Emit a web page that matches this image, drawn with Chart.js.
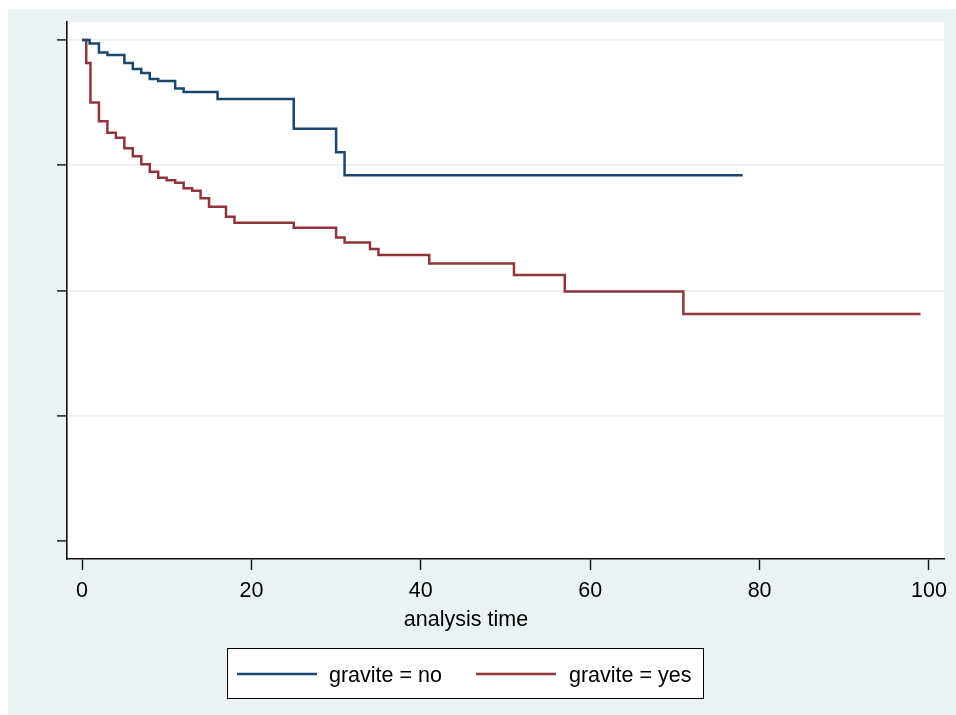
<!DOCTYPE html>
<html>
<head>
<meta charset="utf-8">
<script src="https://cdn.jsdelivr.net/npm/chart.js@4/dist/chart.umd.min.js"></script>
<style>
  html, body { margin: 0; padding: 0; background: #ffffff; }
  #wrap { width: 956px; height: 715px; position: relative; }
</style>
</head>
<body>
<div id="wrap"><canvas id="c" width="956" height="715"></canvas></div>
<script>
// ---- Data (Kaplan-Meier estimates) ----
const seriesLabels = ["gravite = no", "gravite = yes"];
const noTimes = [0, 0.9, 2, 3, 5, 6, 7, 8, 9, 11, 12, 16, 25, 30, 31, 78];
const noSurv  = [1.000, 0.993, 0.975, 0.970, 0.954, 0.942, 0.934, 0.922, 0.918, 0.903, 0.896, 0.882, 0.823, 0.776, 0.730, 0.730];
const yesTimes = [0, 0.5, 1, 2, 3, 4, 5, 6, 7, 8, 9, 10, 11, 12, 13, 14, 15, 17, 18, 25, 30, 31, 34, 35, 41, 51, 57, 71, 99];
const yesSurv  = [1.000, 0.954, 0.875, 0.838, 0.815, 0.805, 0.784, 0.768, 0.752, 0.737, 0.725, 0.720, 0.715, 0.704, 0.699, 0.684, 0.667, 0.647, 0.635, 0.625, 0.606, 0.596, 0.583, 0.571, 0.554, 0.531, 0.498, 0.453, 0.453];
const xTickValues = [0, 20, 40, 60, 80, 100];
const yTickValues = [0, 0.25, 0.5, 0.75, 1];
const xAxisTitle = "analysis time";

const toPoints = (ts, ss) => ts.map((t, i) => ({ x: t, y: ss[i] }));

const FONT = "'Liberation Sans', Arial, sans-serif";
const BG = "#EAF2F3";
const BLUE = "#1A476F";
const RED = "#90353B";

const backgroundPlugin = {
  id: 'stataBackground',
  beforeDraw(chart) {
    const { ctx, chartArea } = chart;
    ctx.save();
    ctx.fillStyle = '#ffffff';
    ctx.fillRect(0, 0, chart.width, chart.height);
    ctx.fillStyle = BG;
    ctx.fillRect(8, 9, chart.width - 8, chart.height - 9);
    ctx.fillStyle = '#ffffff';
    ctx.fillRect(chartArea.left, chartArea.top, chartArea.right - chartArea.left, chartArea.bottom - chartArea.top);
    ctx.restore();
  }
};

const titleLegendPlugin = {
  id: 'titleLegend',
  afterDraw(chart) {
    const { ctx } = chart;
    ctx.save();
    // x-axis title
    ctx.fillStyle = '#000000';
    ctx.font = "21.5px " + FONT;
    ctx.textAlign = 'center';
    ctx.textBaseline = 'alphabetic';
    ctx.fillText(xAxisTitle, 466, 626);
    // legend box
    const bx = 227.5, by = 648.5, bw = 476, bh = 50;
    ctx.fillStyle = '#ffffff';
    ctx.fillRect(bx, by, bw, bh);
    ctx.strokeStyle = '#000000';
    ctx.lineWidth = 1;
    ctx.strokeRect(bx, by, bw, bh);
    const items = [
      { lx: 237, tx: 329 },
      { lx: 476, tx: 569 }
    ];
    chart.data.datasets.forEach((ds, i) => {
      const it = items[i];
      ctx.strokeStyle = ds.borderColor;
      ctx.lineWidth = 2.5;
      ctx.beginPath();
      ctx.moveTo(it.lx, 674);
      ctx.lineTo(it.lx + 80, 674);
      ctx.stroke();
      ctx.fillStyle = '#000000';
      ctx.font = "21.5px " + FONT;
      ctx.textAlign = 'left';
      ctx.textBaseline = 'alphabetic';
      ctx.fillText(ds.label, it.tx, 682);
    });
    ctx.restore();
  }
};

new Chart(document.getElementById('c'), {
  type: 'line',
  data: {
    datasets: [
      {
        label: seriesLabels[0],
        data: toPoints(noTimes, noSurv),
        borderColor: BLUE,
        backgroundColor: BLUE,
        borderWidth: 2.5,
        stepped: 'before',
        pointRadius: 0,
        fill: false
      },
      {
        label: seriesLabels[1],
        data: toPoints(yesTimes, yesSurv),
        borderColor: RED,
        backgroundColor: RED,
        borderWidth: 2.5,
        stepped: 'before',
        pointRadius: 0,
        fill: false
      }
    ]
  },
  options: {
    responsive: false,
    animation: false,
    devicePixelRatio: 1,
    layout: { padding: { left: 0, top: 22, right: 12, bottom: 0 } },
    plugins: {
      legend: { display: false },
      tooltip: { enabled: false },
      title: { display: false }
    },
    scales: {
      x: {
        type: 'linear',
        min: -1.771,
        max: 101.771,
        afterBuildTicks(scale) { scale.ticks = xTickValues.map(v => ({ value: v })); },
        afterFit(scale) { scale.height = 156; },
        grid: {
          display: true,
          drawOnChartArea: false,
          drawTicks: true,
          tickLength: 11,
          tickWidth: 1.4,
          tickColor: '#111111'
        },
        border: { display: true, color: '#111111', width: 1.6 },
        ticks: {
          color: '#000000',
          font: { family: FONT, size: 21.5 },
          padding: 8,
          maxRotation: 0,
          autoSkip: false,
          callback: (v) => String(v)
        },
        title: { display: false }
      },
      y: {
        type: 'linear',
        min: -0.0359,
        max: 1.0359,
        afterBuildTicks(scale) { scale.ticks = yTickValues.map(v => ({ value: v })); },
        afterFit(scale) { scale.width = 67; },
        grid: {
          display: true,
          drawOnChartArea: true,
          drawTicks: true,
          tickLength: 10,
          lineWidth: 1.8,
          color: (c) => (c.tick && c.tick.value === 0) ? 'rgba(0,0,0,0)' : BG,
          tickWidth: 1.4,
          tickColor: '#111111'
        },
        border: { display: true, color: '#111111', width: 1.6 },
        ticks: { display: false }
      }
    }
  },
  plugins: [backgroundPlugin, titleLegendPlugin]
});
</script>
</body>
</html>
